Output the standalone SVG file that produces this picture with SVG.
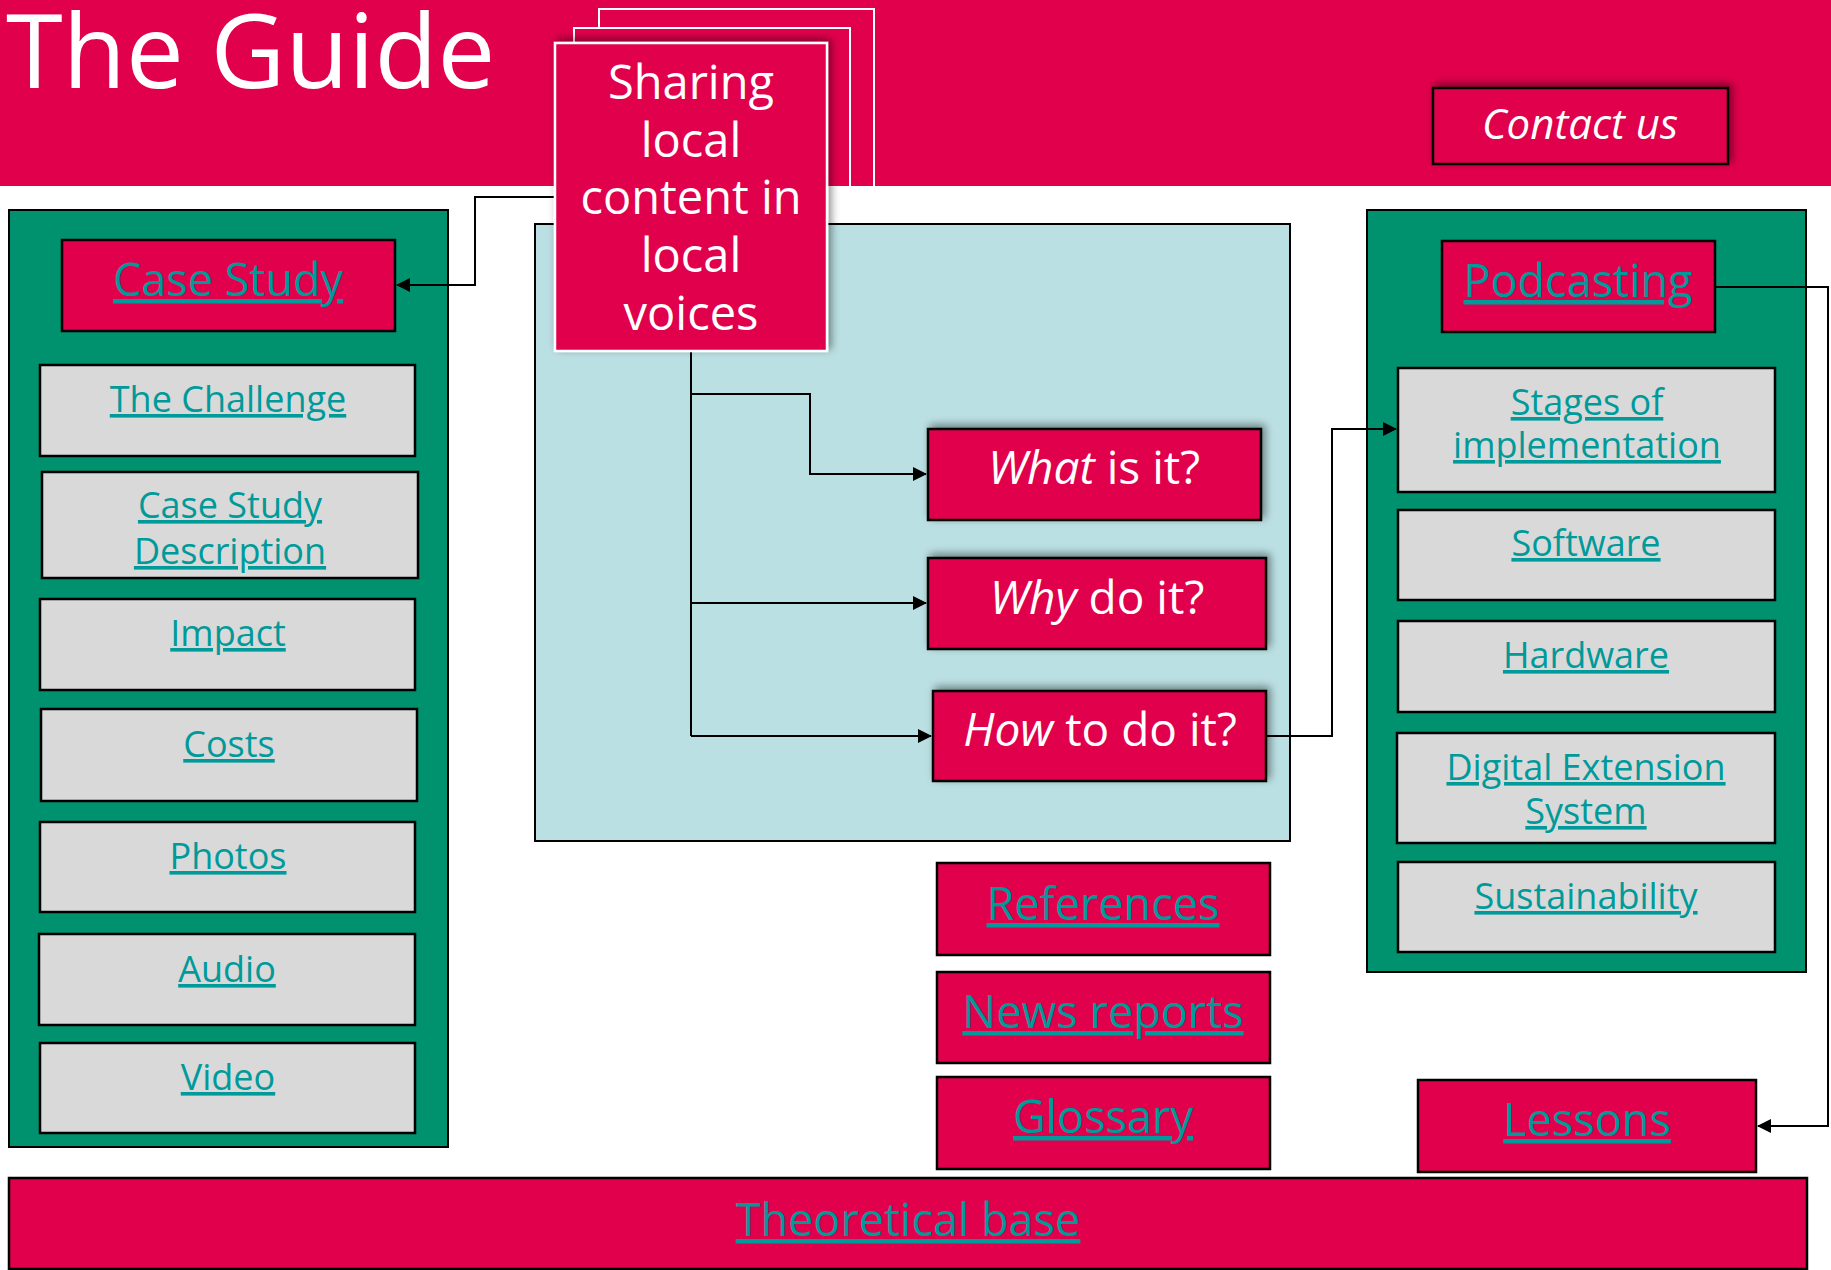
<svg xmlns="http://www.w3.org/2000/svg" width="1831" height="1270" viewBox="0 0 1831 1270">
<defs>
<style>
.red{fill:#E1004C;stroke:#000;stroke-width:2.5}
.gray{fill:#D9D9D9;stroke:#000;stroke-width:2.5}
.panel{fill:#00926F;stroke:#000;stroke-width:2}
.t{font-family:"Open Sans","DejaVu Sans",sans-serif;text-anchor:middle}
.link{fill:#009A9A;text-decoration:underline}
.big{font-size:45px}
.small{font-size:36px}
.wt{fill:#fff}
.conn{fill:none;stroke:#000;stroke-width:2}
</style>
<marker id="arr" markerUnits="userSpaceOnUse" markerWidth="14" markerHeight="14" refX="13" refY="7" orient="auto">
<path d="M0,0 L14,7 L0,14 z" fill="#000"/>
</marker>
<filter id="sh" x="-10%" y="-20%" width="125%" height="140%">
<feDropShadow dx="3" dy="-3" stdDeviation="4" flood-color="#000" flood-opacity="0.45"/>
</filter>
</defs>

<g id="header">
<rect x="0" y="0" width="1831" height="186" fill="#E1004C"/>
<text x="6" y="88" font-family="'Open Sans','DejaVu Sans',sans-serif" font-size="103" fill="#fff">The Guide</text>
</g>

<g id="sharing-stack">
<path d="M599,186 V9 H874 V186" fill="#E1004C" stroke="#fff" stroke-width="2"/>
<path d="M574,186 V28 H850 V186" fill="#E1004C" stroke="#fff" stroke-width="2"/>
</g>

<g id="background-panel">
<rect x="535" y="224" width="755" height="617" fill="#BBE0E3" stroke="#000" stroke-width="2"/>
</g>

<g id="case-study-panel">
<rect class="panel" x="9" y="210" width="439" height="937"/>
</g>
<g id="podcasting-panel">
<rect class="panel" x="1367" y="210" width="439" height="762"/>
</g>

<g id="connectors">
<path class="conn" d="M555,197 H475 V285 H397" marker-end="url(#arr)"/>
<path class="conn" d="M691,351 V736"/>
<path class="conn" d="M691,394 H810 V474 H926" marker-end="url(#arr)"/>
<path class="conn" d="M691,603 H926" marker-end="url(#arr)"/>
<path class="conn" d="M691,736 H931" marker-end="url(#arr)"/>
<path class="conn" d="M1266,736 H1332 V429 H1396" marker-end="url(#arr)"/>
<path class="conn" d="M1715,287 H1828 V1126 H1758" marker-end="url(#arr)"/>
</g>

<g id="sharing">
<rect x="555" y="43" width="272" height="308" fill="#E1004C" stroke="#fff" stroke-width="2.5" filter="url(#sh)"/>
<text class="t wt" font-size="47"><tspan x="691" y="99">Sharing</tspan><tspan x="691" y="157">local</tspan><tspan x="691" y="214">content in</tspan><tspan x="691" y="272">local</tspan><tspan x="691" y="330">voices</tspan></text>
</g>

<g id="contact-us">
<rect class="red" x="1433" y="88" width="295" height="76" filter="url(#sh)"/>
<text class="t wt" x="1580" y="139" font-size="42" font-style="italic">Contact us</text>
</g>

<g id="case-study">
<rect class="red" x="62" y="240" width="333" height="91"/>
<text class="t link big" x="228" y="296">Case Study</text>
</g>
<g id="the-challenge">
<rect class="gray" x="40" y="365" width="375" height="91"/>
<text class="t link small" x="228" y="412">The Challenge</text>
</g>
<g id="case-study-description">
<rect class="gray" x="42" y="472" width="376" height="106"/>
<text class="t link small"><tspan x="230" y="518">Case Study</tspan><tspan x="230" y="564">Description</tspan></text>
</g>
<g id="impact">
<rect class="gray" x="40" y="599" width="375" height="91"/>
<text class="t link small" x="228" y="646">Impact</text>
</g>
<g id="costs">
<rect class="gray" x="41" y="709" width="376" height="92"/>
<text class="t link small" x="229" y="757">Costs</text>
</g>
<g id="photos">
<rect class="gray" x="40" y="822" width="375" height="90"/>
<text class="t link small" x="228" y="869">Photos</text>
</g>
<g id="audio">
<rect class="gray" x="39" y="934" width="376" height="91"/>
<text class="t link small" x="227" y="982">Audio</text>
</g>
<g id="video">
<rect class="gray" x="40" y="1043" width="375" height="90"/>
<text class="t link small" x="228" y="1090">Video</text>
</g>

<g id="what-is-it">
<rect class="red" x="928" y="429" width="333" height="91" filter="url(#sh)"/>
<text class="t wt" x="1094" y="484" font-size="46"><tspan font-style="italic">What</tspan> is it?</text>
</g>
<g id="why-do-it">
<rect class="red" x="928" y="558" width="338" height="91" filter="url(#sh)"/>
<text class="t wt" x="1097" y="614" font-size="46"><tspan font-style="italic">Why</tspan> do it?</text>
</g>
<g id="how-to-do-it">
<rect class="red" x="933" y="691" width="333" height="90" filter="url(#sh)"/>
<text class="t wt" x="1100" y="746" font-size="46"><tspan font-style="italic">How</tspan> to do it?</text>
</g>

<g id="podcasting">
<rect class="red" x="1442" y="241" width="273" height="91"/>
<text class="t link big" x="1578" y="297">Podcasting</text>
</g>
<g id="stages">
<rect class="gray" x="1398" y="368" width="377" height="124"/>
<text class="t link small"><tspan x="1587" y="415">Stages of</tspan><tspan x="1587" y="458">implementation</tspan></text>
</g>
<g id="software">
<rect class="gray" x="1398" y="510" width="377" height="90"/>
<text class="t link small" x="1586" y="556">Software</text>
</g>
<g id="hardware">
<rect class="gray" x="1398" y="621" width="377" height="91"/>
<text class="t link small" x="1586" y="668">Hardware</text>
</g>
<g id="digital-extension-system">
<rect class="gray" x="1397" y="733" width="378" height="110"/>
<text class="t link small"><tspan x="1586" y="780">Digital Extension</tspan><tspan x="1586" y="824">System</tspan></text>
</g>
<g id="sustainability">
<rect class="gray" x="1398" y="862" width="377" height="90"/>
<text class="t link small" x="1586" y="909">Sustainability</text>
</g>

<g id="references">
<rect class="red" x="937" y="863" width="333" height="92"/>
<text class="t link big" x="1103" y="920">References</text>
</g>
<g id="news-reports">
<rect class="red" x="937" y="972" width="333" height="91"/>
<text class="t link big" x="1103" y="1028">News reports</text>
</g>
<g id="glossary">
<rect class="red" x="937" y="1077" width="333" height="92"/>
<text class="t link big" x="1103" y="1133">Glossary</text>
</g>
<g id="lessons">
<rect class="red" x="1418" y="1080" width="338" height="92"/>
<text class="t link big" x="1587" y="1136">Lessons</text>
</g>
<g id="theoretical-base">
<rect class="red" x="9" y="1178" width="1798" height="91"/>
<text class="t link big" x="908" y="1236">Theoretical base</text>
</g>
</svg>
